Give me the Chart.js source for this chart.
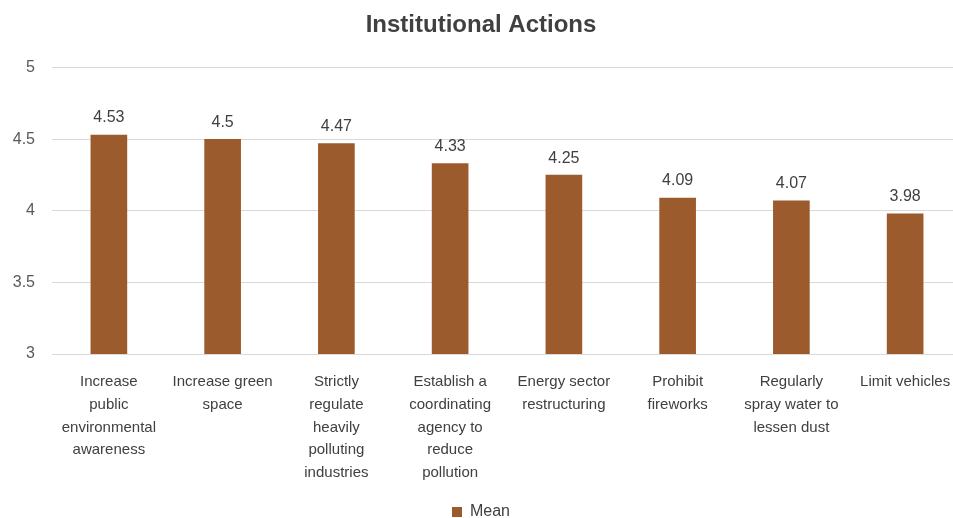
<!DOCTYPE html>
<html>
<head>
<meta charset="utf-8">
<title>Institutional Actions</title>
<script src="https://cdn.jsdelivr.net/npm/chart.js@4/dist/chart.umd.min.js"></script>
<style>
  html, body { margin: 0; padding: 0; background: #fff; overflow: hidden; }
  #wrap { width: 975px; height: 530px; }
</style>
</head>
<body>
<div id="wrap"><canvas id="myChart" width="975" height="530"></canvas></div>
<script>
// Survey means for each institutional action
const actions = [
  ['Increase', 'public', 'environmental', 'awareness'],
  ['Increase green', 'space'],
  ['Strictly', 'regulate', 'heavily', 'polluting', 'industries'],
  ['Establish a', 'coordinating', 'agency to', 'reduce', 'pollution'],
  ['Energy sector', 'restructuring'],
  ['Prohibit', 'fireworks'],
  ['Regularly', 'spray water to', 'lessen dust'],
  ['Limit vehicles']
]
const meanValues = [4.53, 4.5, 4.47, 4.33, 4.25, 4.09, 4.07, 3.98]
const yTicks = [3, 3.5, 4, 4.5, 5]

const fontFamily = "'Liberation Sans', Arial, sans-serif"

// Value labels on top of each bar
const valueLabels = {
  id: 'valueLabels',
  afterDatasetsDraw (chart) {
    const ctx = chart.ctx
    const meta = chart.getDatasetMeta(0)
    ctx.save()
    ctx.font = '16px ' + fontFamily
    ctx.fillStyle = '#404040'
    ctx.textAlign = 'center'
    ctx.textBaseline = 'bottom'
    meta.data.forEach((bar, i) => {
      ctx.fillText(String(chart.data.datasets[0].data[i]), bar.x, bar.y - 9)
    })
    ctx.restore()
  }
}

const ctx = document.getElementById('myChart').getContext('2d')
new Chart(ctx, {
  type: 'bar',
  data: {
    labels: actions,
    datasets: [
      {
        label: 'Mean',
        backgroundColor: '#9c5b2c',
        data: meanValues,
        barThickness: 36
      }
    ]
  },
  options: {
    responsive: false,
    animation: false,
    layout: { padding: { left: 0, right: 13, top: 0, bottom: 0 } },
    plugins: {
      title: {
        display: true,
        text: 'Institutional Actions',
        color: '#404040',
        font: { family: fontFamily, size: 24, weight: 'bold' },
        padding: { top: 11, bottom: 28 }
      },
      legend: {
        position: 'bottom',
        labels: {
          color: '#404040',
          font: { family: fontFamily, size: 16 },
          boxWidth: 10,
          boxHeight: 10,
          padding: 10
        }
      },
      tooltip: { enabled: false }
    },
    scales: {
      x: {
        grid: { display: false },
        border: { display: false },
        ticks: {
          color: '#404040',
          font: { family: fontFamily, size: 15, lineHeight: 1.53 },
          maxRotation: 0,
          autoSkip: false,
          padding: 8
        },
        afterFit (scale) { scale.height = 140 }
      },
      y: {
        min: 3,
        max: 5,
        afterBuildTicks (scale) { scale.ticks = yTicks.map(v => ({ value: v })) },
        grid: { color: '#d9d9d9', drawTicks: false },
        border: { display: false },
        ticks: {
          color: '#595959',
          font: { family: fontFamily, size: 16 },
          padding: 17,
          callback: v => String(v)
        },
        afterFit (scale) { scale.width = 52 }
      }
    }
  },
  plugins: [valueLabels]
})
</script>
</body>
</html>
